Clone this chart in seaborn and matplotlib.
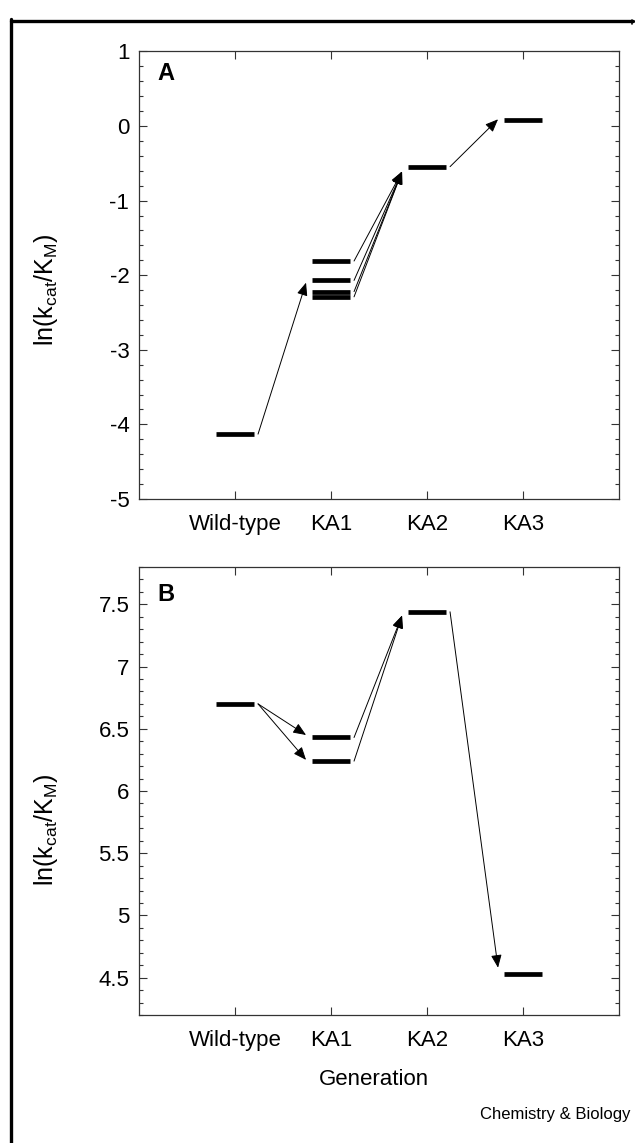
import numpy as np
import pandas as pd
import seaborn as sns
import matplotlib.pyplot as plt
from matplotlib.lines import Line2D
from matplotlib.ticker import MultipleLocator

generations = ['Wild-type', 'KA1', 'KA2', 'KA3']

# panel A: ln(kcat/KM) per variant
a_gen = ['Wild-type', 'KA1', 'KA1', 'KA1', 'KA1', 'KA2', 'KA3']
a_val = [-4.13, -1.81, -2.07, -2.22, -2.29, -0.545, 0.076]
# arrows: (from bar, to bar, y of arrow tip)
a_links = [(0, 4, -2.10), (1, 5, -0.61), (2, 5, -0.61), (3, 5, -0.61),
           (4, 5, -0.61), (5, 6, 0.09)]

# panel B
b_gen = ['Wild-type', 'KA1', 'KA1', 'KA2', 'KA3']
b_val = [6.70, 6.43, 6.24, 7.44, 4.53]
b_links = [(0, 1, 6.45), (0, 2, 6.25), (1, 3, 7.41), (2, 3, 7.41), (3, 4, 4.58)]

half = 0.2
gap_start = 0.04
gap_end = 0.06

sns.set_theme(style='ticks')
plt.rcParams['font.family'] = ['Liberation Sans', 'DejaVu Sans']
plt.rcParams['mathtext.default'] = 'regular'
plt.rcParams['axes.unicode_minus'] = False
plt.rcParams['text.color'] = 'black'
plt.rcParams['axes.labelcolor'] = 'black'

fig = plt.figure(figsize=(6.35, 11.43), dpi=100)
axA = fig.add_axes([139 / 635, 1 - 499 / 1143, 480 / 635, 447.6 / 1143])
axB = fig.add_axes([139 / 635, 1 - 1015 / 1143, 480 / 635, 448 / 1143])


def draw_panel(ax, gens, vals, links):
    pos = [generations.index(g) for g in gens]
    rows = []
    for i, (p, v) in enumerate(zip(pos, vals)):
        rows.append({'bar': i, 'x': p - half, 'y': v})
        rows.append({'bar': i, 'x': p + half, 'y': v})
    df = pd.DataFrame(rows)
    sns.lineplot(data=df, x='x', y='y', units='bar', estimator=None,
                 color='black', lw=3.4, solid_capstyle='butt', ax=ax,
                 legend=False)
    for src, dst, tip in links:
        x0 = pos[src] + half + gap_start
        x1 = pos[dst] - half - gap_end
        ax.annotate('', xy=(x1, tip), xytext=(x0, vals[src]),
                    arrowprops=dict(arrowstyle='-|>,head_length=0.65,head_width=0.27',
                                    color='black', lw=0.7, shrinkA=0, shrinkB=0,
                                    mutation_scale=12))
    ax.set_xlim(-1, 4)
    ax.set_xticks(range(len(generations)))
    ax.set_xticklabels(generations)
    ax.set_xlabel('')
    ax.set_ylabel('ln(k$_{cat}$/K$_{M}$)', fontsize=18)
    for s in ax.spines.values():
        s.set_visible(True)
        s.set_color('#333333')
        s.set_linewidth(0.9)
    ax.tick_params(axis='both', which='both', direction='in', colors='#333333',
                   labelcolor='black', top=True, right=True)
    ax.tick_params(axis='x', which='major', length=5.5, width=0.8, pad=11,
                   labelsize=16)
    ax.tick_params(axis='y', which='major', length=5.5, width=0.8, pad=7,
                   labelsize=16)
    ax.tick_params(axis='y', which='minor', length=3, width=0.8)
    ax.tick_params(axis='x', which='minor', bottom=False, top=False)


draw_panel(axA, a_gen, a_val, a_links)
axA.set_ylim(-5, 1)
axA.yaxis.set_major_locator(MultipleLocator(1))
axA.yaxis.set_minor_locator(MultipleLocator(0.2))
axA.yaxis.set_label_coords(-0.165, 0.467)
axA.text(0.0375, 0.976, 'A', transform=axA.transAxes, fontsize=17,
         fontweight='bold', ha='left', va='top')

draw_panel(axB, b_gen, b_val, b_links)
axB.set_ylim(4.2, 7.8)
axB.yaxis.set_major_locator(MultipleLocator(0.5))
axB.yaxis.set_minor_locator(MultipleLocator(0.1))
axB.set_yticklabels([f'{t:g}' for t in axB.get_yticks()])
axB.yaxis.set_label_coords(-0.165, 0.413)
axB.text(0.0375, 0.965, 'B', transform=axB.transAxes, fontsize=17,
         fontweight='bold', ha='left', va='top')
axB.set_xlabel('Generation', fontsize=16)
axB.xaxis.set_label_coords(0.49, -0.145)
axB.xaxis.label.set_va('center')

fig.text(630 / 635, 1 - 1115 / 1143, 'Chemistry & Biology', fontsize=12,
         ha='right', va='center')

# frame lines of the original figure box
fig.add_artist(Line2D([10.5 / 635, 633 / 635], [1 - 20.5 / 1143] * 2,
                      transform=fig.transFigure, color='black', lw=2.4))
fig.add_artist(Line2D([10.5 / 635] * 2, [1 - 19 / 1143, 0],
                      transform=fig.transFigure, color='black', lw=2.4))
fig.add_artist(Line2D([632 / 635] * 2, [1 - 20 / 1143, 1 - 24 / 1143],
                      transform=fig.transFigure, color='black', lw=1.2))

fig.savefig('out.png', dpi=100)
